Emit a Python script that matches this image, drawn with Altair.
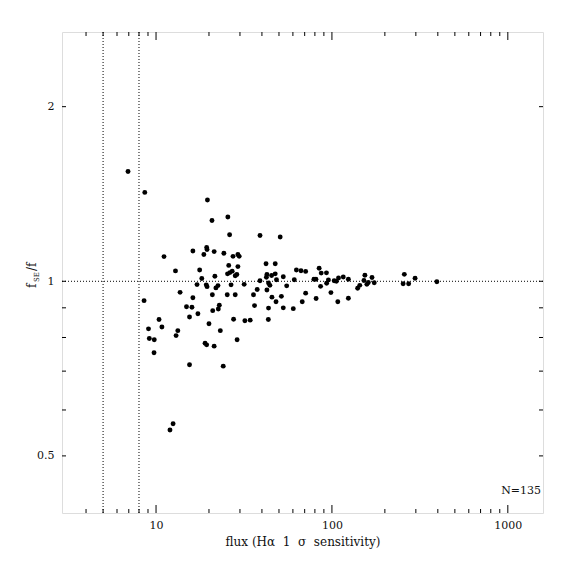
import altair as alt
import pandas as pd

# ---- data ----
flux = [6.93, 8.63, 8.55, 11.1, 12.9, 13.7, 10.4, 10.8, 9.06, 13.3,
        13.0, 9.16, 9.77, 9.74, 12.5, 12.0, 19.6, 20.8, 25.6, 26.2,
        16.2, 19.4, 19.5, 18.7, 21.4, 24.3, 27.4, 29.2, 29.7, 17.7,
        25.9, 29.2, 25.5, 26.3, 27.1, 28.2, 28.8, 18.2, 21.6, 17.1,
        19.3, 19.5, 21.9, 22.5, 26.7, 31.7, 16.2, 20.9, 25.4, 28.2,
        35.8, 14.9, 16.0, 15.5, 17.3, 21.0, 22.6, 22.9, 36.3, 27.6,
        32.0, 34.3, 20.0, 23.2, 28.9, 19.0, 19.4, 21.4, 15.5, 24.1,
        39.0, 50.8, 42.2, 47.6, 62.8, 66.7, 70.9, 84.6, 86.9, 93.1,
        42.7, 42.4, 45.4, 47.6, 48.4, 52.9, 39.0, 43.6, 44.4, 55.3,
        61.1, 79.0, 81.1, 93.3, 95.5, 86.2, 103, 109, 106, 37.6,
        42.7, 45.6, 51.6, 48.1, 70.9, 67.8, 81.3, 98.7, 108, 43.6,
        52.9, 60.3, 43.5, 116, 124, 124, 140, 144, 152, 154,
        158, 161, 169, 174, 258, 254, 273, 297, 395]
ratio = [1.546, 1.423, 0.926, 1.103, 1.042, 0.957, 0.859, 0.834, 0.828, 0.822,
         0.806, 0.797, 0.793, 0.753, 0.568, 0.554, 1.381, 1.273, 1.291, 1.203,
         1.128, 1.144, 1.134, 1.112, 1.125, 1.118, 1.104, 1.112, 1.104, 1.046,
         1.065, 1.060, 1.030, 1.035, 1.041, 1.022, 1.027, 1.011, 1.020, 0.987,
         0.986, 0.979, 0.974, 0.983, 0.986, 0.988, 0.937, 0.948, 0.948, 0.948,
         0.948, 0.904, 0.902, 0.868, 0.879, 0.890, 0.896, 0.909, 0.908, 0.860,
         0.855, 0.857, 0.845, 0.822, 0.793, 0.782, 0.777, 0.773, 0.718, 0.714,
         1.199, 1.192, 1.072, 1.072, 1.046, 1.043, 1.040, 1.053, 1.033, 1.034,
         1.027, 1.016, 1.023, 1.030, 1.006, 1.018, 1.002, 0.993, 0.984, 0.982,
         1.006, 1.008, 1.008, 0.992, 1.005, 0.980, 1.002, 1.013, 1.000, 0.968,
         0.966, 0.939, 0.942, 0.922, 0.954, 0.922, 0.934, 0.956, 0.922, 0.899,
         0.900, 0.897, 0.859, 1.017, 1.008, 0.935, 0.973, 0.984, 1.003, 1.024,
         0.988, 0.995, 1.015, 0.994, 1.028, 0.990, 0.990, 1.012, 0.998]

x_major = [10, 100, 1000]
x_minor = [4, 5, 6, 7, 8, 9, 20, 30, 40, 50, 60, 70, 80, 90,
           200, 300, 400, 500, 600, 700, 800, 900]
y_ticks = [0.5, 0.6, 0.7, 0.8, 0.9, 1, 2]
y_labels = [0.5, 1, 2]
v_limits = [5, 8]
h_level = [1]
n_label = ["N=135"]
x_title = "flux (H\u03b1 \u00a01 \u00a0\u03c3 \u00a0sensitivity)"

W = 481
H = 481
FONT = "DejaVu Serif"
INK = "#111111"

xs = alt.Scale(type="log", domain=[2.92, 1585], nice=False)
ys = alt.Scale(type="log", domain=[0.3986, 2.69], nice=False)

pts = pd.DataFrame({"flux": flux, "ratio": ratio})

scatter = alt.Chart(pts).mark_circle(size=24, color="black", opacity=1).encode(
    x=alt.X("flux:Q", scale=xs,
            axis=alt.Axis(values=x_major, format="~g", ticks=False, domain=False, grid=False,
                          labelFont=FONT, labelFontSize=11, labelColor=INK, labelPadding=6,
                          title=x_title, titleFont=FONT, titleFontSize=12,
                          titleFontWeight="normal", titleColor=INK, titlePadding=6)),
    y=alt.Y("ratio:Q", scale=ys,
            axis=alt.Axis(values=y_labels, format="~g", ticks=False, domain=False, grid=False,
                          labelFont=FONT, labelFontSize=11, labelColor=INK, labelPadding=8,
                          title=None)),
)

dash = [1, 2]
vl = alt.Chart(pd.DataFrame({"v": v_limits})).mark_rule(
    color="black", strokeWidth=1, strokeDash=dash).encode(x=alt.X("v:Q", scale=xs))
hl = alt.Chart(pd.DataFrame({"h": h_level})).mark_rule(
    color="black", strokeWidth=1, strokeDash=dash).encode(y=alt.Y("h:Q", scale=ys))

dfxM = pd.DataFrame({"t": x_major})
dfxm = pd.DataFrame({"t": x_minor})
dfy = pd.DataFrame({"t": y_ticks})
tk = dict(color="black", strokeWidth=1)

bM = alt.Chart(dfxM).mark_rule(**tk).encode(x=alt.X("t:Q", scale=xs), y=alt.value(H), y2=alt.value(H - 8))
bm = alt.Chart(dfxm).mark_rule(**tk).encode(x=alt.X("t:Q", scale=xs), y=alt.value(H), y2=alt.value(H - 4))
tM = alt.Chart(dfxM).mark_rule(**tk).encode(x=alt.X("t:Q", scale=xs), y=alt.value(0), y2=alt.value(8))
tm = alt.Chart(dfxm).mark_rule(**tk).encode(x=alt.X("t:Q", scale=xs), y=alt.value(0), y2=alt.value(4))
lt = alt.Chart(dfy).mark_rule(**tk).encode(y=alt.Y("t:Q", scale=ys), x=alt.value(0), x2=alt.value(4))
rt = alt.Chart(dfy).mark_rule(**tk).encode(y=alt.Y("t:Q", scale=ys), x=alt.value(W), x2=alt.value(W - 4))

ntext = alt.Chart(pd.DataFrame({"s": n_label})).mark_text(
    font=FONT, fontSize=11, color=INK, align="right", baseline="middle"
).encode(text="s:N", x=alt.value(W - 2), y=alt.value(459))

# y-axis title: f_SE/f, rotated
yt_main1 = alt.Chart(pd.DataFrame({"s": ["f"]})).mark_text(
    font=FONT, fontSize=12, color=INK, angle=270, align="left", baseline="alphabetic"
).encode(text="s:N", x=alt.value(-26), y=alt.value(256))
yt_sub = alt.Chart(pd.DataFrame({"s": ["SE"]})).mark_text(
    font=FONT, fontSize=7, color=INK, angle=270, align="left", baseline="alphabetic"
).encode(text="s:N", x=alt.value(-23), y=alt.value(250))
yt_main2 = alt.Chart(pd.DataFrame({"s": ["/f"]})).mark_text(
    font=FONT, fontSize=12, color=INK, angle=270, align="left", baseline="alphabetic"
).encode(text="s:N", x=alt.value(-26), y=alt.value(239))

chart = alt.layer(
    scatter, vl, hl, bM, bm, tM, tm, lt, rt, ntext, yt_main1, yt_sub, yt_main2
).properties(
    width=W, height=H,
    autosize=alt.AutoSizeParams(type="none"),
    padding={"left": 54, "top": 24, "right": 23, "bottom": 53},
).configure_view(stroke="black", strokeWidth=1).configure(background="white")

chart.save("out.html", embed_options={"renderer": "svg", "actions": False})
